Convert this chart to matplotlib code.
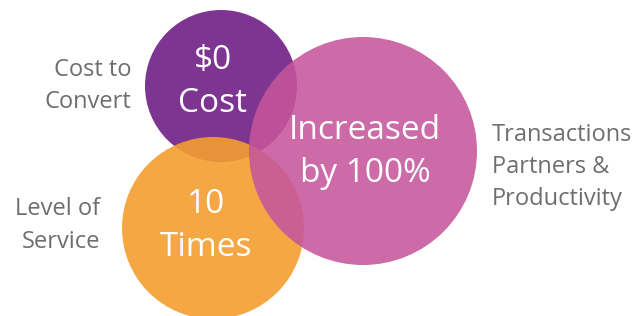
import matplotlib
matplotlib.use("Agg")
import matplotlib.pyplot as plt
from matplotlib.patches import Circle

# Data
metrics = ["Cost to\nConvert", "Level of\nService", "Transactions\nPartners &\nProductivity"]
results = ["$0\nCost", "10\nTimes", "Increased\nby 100%"]
colors = ["#7E3592", "#F49E2F", "#C5569C"]
alphas = [1.0, 0.9, 0.88]

plt.rcParams['font.family'] = ['Open Sans', 'DejaVu Sans']

fig = plt.figure(figsize=(6.41, 3.16), dpi=100)
ax = fig.add_axes([0, 0, 1, 1])
ax.set_xlim(0, 641)
ax.set_ylim(316, 0)
ax.set_aspect('equal')
ax.axis('off')

# layout (pixel space)
centers = [(221, 86), (213, 228), (363, 151)]
radii = [76, 91, 114]
text_pos = [(213, 82), (206, 226), (365, 152)]
label_pos = [(131, 86, 'right'), (100, 225.5, 'right'), (492, 167, 'left')]

for (cx, cy), r, c, a in zip(centers, radii, colors, alphas):
    ax.add_patch(Circle((cx, cy), r, facecolor=c, edgecolor='none', alpha=a))

for (tx, ty), t in zip(text_pos, results):
    ax.text(tx, ty, t, color='white', fontsize=24, ha='center', va='center',
            linespacing=1.39)

for (lx, ly, ha), t in zip(label_pos, metrics):
    ax.text(lx, ly, t, color='#6D6E71', fontsize=17, ha=ha, va='center',
            multialignment=ha, linespacing=1.47)

fig.savefig("out.png", dpi=100)
